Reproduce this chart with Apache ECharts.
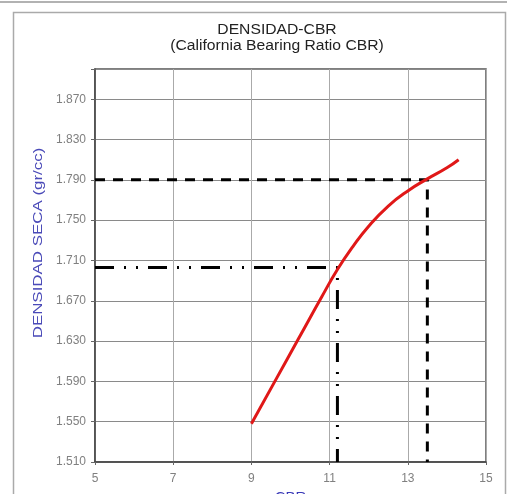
<!DOCTYPE html>
<html>
<head>
<meta charset="utf-8">
<script src="https://cdn.jsdelivr.net/npm/echarts@6/dist/echarts.min.js"></script>
<style>
  html, body { margin: 0; padding: 0; background: #fff; }
  #chart { width: 507px; height: 494px; }
</style>
</head>
<body>
<div id="chart"></div>
<script>
// datos
var cbrCurva = [9.0, 9.6, 10.2, 10.8, 11.2, 11.6, 12.0, 12.5, 13.0, 13.5, 14.0, 14.3];
var densCurva = [1.548, 1.590, 1.632, 1.674, 1.701, 1.724, 1.744, 1.764, 1.779, 1.791, 1.802, 1.810];

var refMax = { cbr: 13.5, dens: 1.790 };   // linea discontinua
var ref95 = { cbr: 11.2, dens: 1.703 };    // linea punto-punto-raya

var xMin = 5, xMax = 15, xPaso = 2;
var yMin = 1.51, yMax = 1.90, yPaso = 0.04;

var fuente = 'Liberation Sans, Arial, sans-serif';
var chart = echarts.init(document.getElementById('chart'));

var curva = cbrCurva.map(function (c, i) { return [c, densCurva[i]]; });

function lineaRef(r) {
  return [[xMin, r.dens], [r.cbr, r.dens], [r.cbr, yMin]];
}

chart.setOption({
  animation: false,
  textStyle: { fontFamily: fuente },
  graphic: [
    // marco exterior
    { type: 'line', shape: { x1: 0, y1: 2, x2: 507, y2: 2 }, style: { stroke: '#999', lineWidth: 1.5 } },
    { type: 'rect', shape: { x: 13.5, y: 12.5, width: 492, height: 490 }, style: { fill: 'none', stroke: '#aaa', lineWidth: 1.5 } },
    { type: 'text', x: 277, y: 22, scaleX: 1.12, style: { text: 'DENSIDAD-CBR\n(California Bearing Ratio CBR)', textAlign: 'center', fontSize: 14, lineHeight: 16, fill: '#222', fontFamily: fuente } },
    { type: 'text', x: 38, y: 243, rotation: Math.PI / 2, scaleX: 1.3, style: { text: 'DENSIDAD SECA (gr/cc)', textAlign: 'center', textVerticalAlign: 'middle', fontSize: 13, fill: '#4a4ab8', fontFamily: fuente } }
  ],
  grid: {
    left: 95, right: 21, top: 69, bottom: 32,
    outerBoundsMode: 'none', containLabel: false,
    show: true, borderColor: '#555', borderWidth: 1.5, backgroundColor: '#fff'
  },
  xAxis: {
    type: 'value', min: xMin, max: xMax, interval: xPaso,
    name: 'CBR', nameLocation: 'middle', nameGap: 25,
    nameTextStyle: { color: '#3a3ab8', fontSize: 15, verticalAlign: 'top' },
    axisLine: { lineStyle: { color: '#444', width: 1.5 } },
    axisTick: { show: true, length: 3, lineStyle: { color: '#666' } },
    axisLabel: { color: '#808080', fontSize: 12, margin: 11 },
    splitLine: { lineStyle: { color: '#aaa', width: 1 } }
  },
  yAxis: {
    type: 'value', min: yMin, max: yMax, interval: yPaso,
    axisLine: { show: true, lineStyle: { color: '#444', width: 1.5 } },
    axisTick: { show: true, length: 4, lineStyle: { color: '#666' } },
    axisLabel: {
      color: '#808080', fontSize: 12, margin: 9,
      formatter: function (v) {
        if (v > 1.88) return '';
        return v.toFixed(3);
      }
    },
    splitLine: { lineStyle: { color: '#8a8a8a', width: 1 } }
  },
  series: [
    {
      type: 'line', data: lineaRef(refMax), symbol: 'none',
      lineStyle: { color: '#000', width: 3, type: [10, 8] }
    },
    {
      type: 'line', data: lineaRef(ref95), symbol: 'none',
      lineStyle: { color: '#000', width: 3, type: [19, 10, 2, 10, 2, 10] }
    },
    {
      type: 'line', data: curva, symbol: 'none', smooth: true,
      lineStyle: { color: '#e01818', width: 3 }
    }
  ]
});
</script>
</body>
</html>
